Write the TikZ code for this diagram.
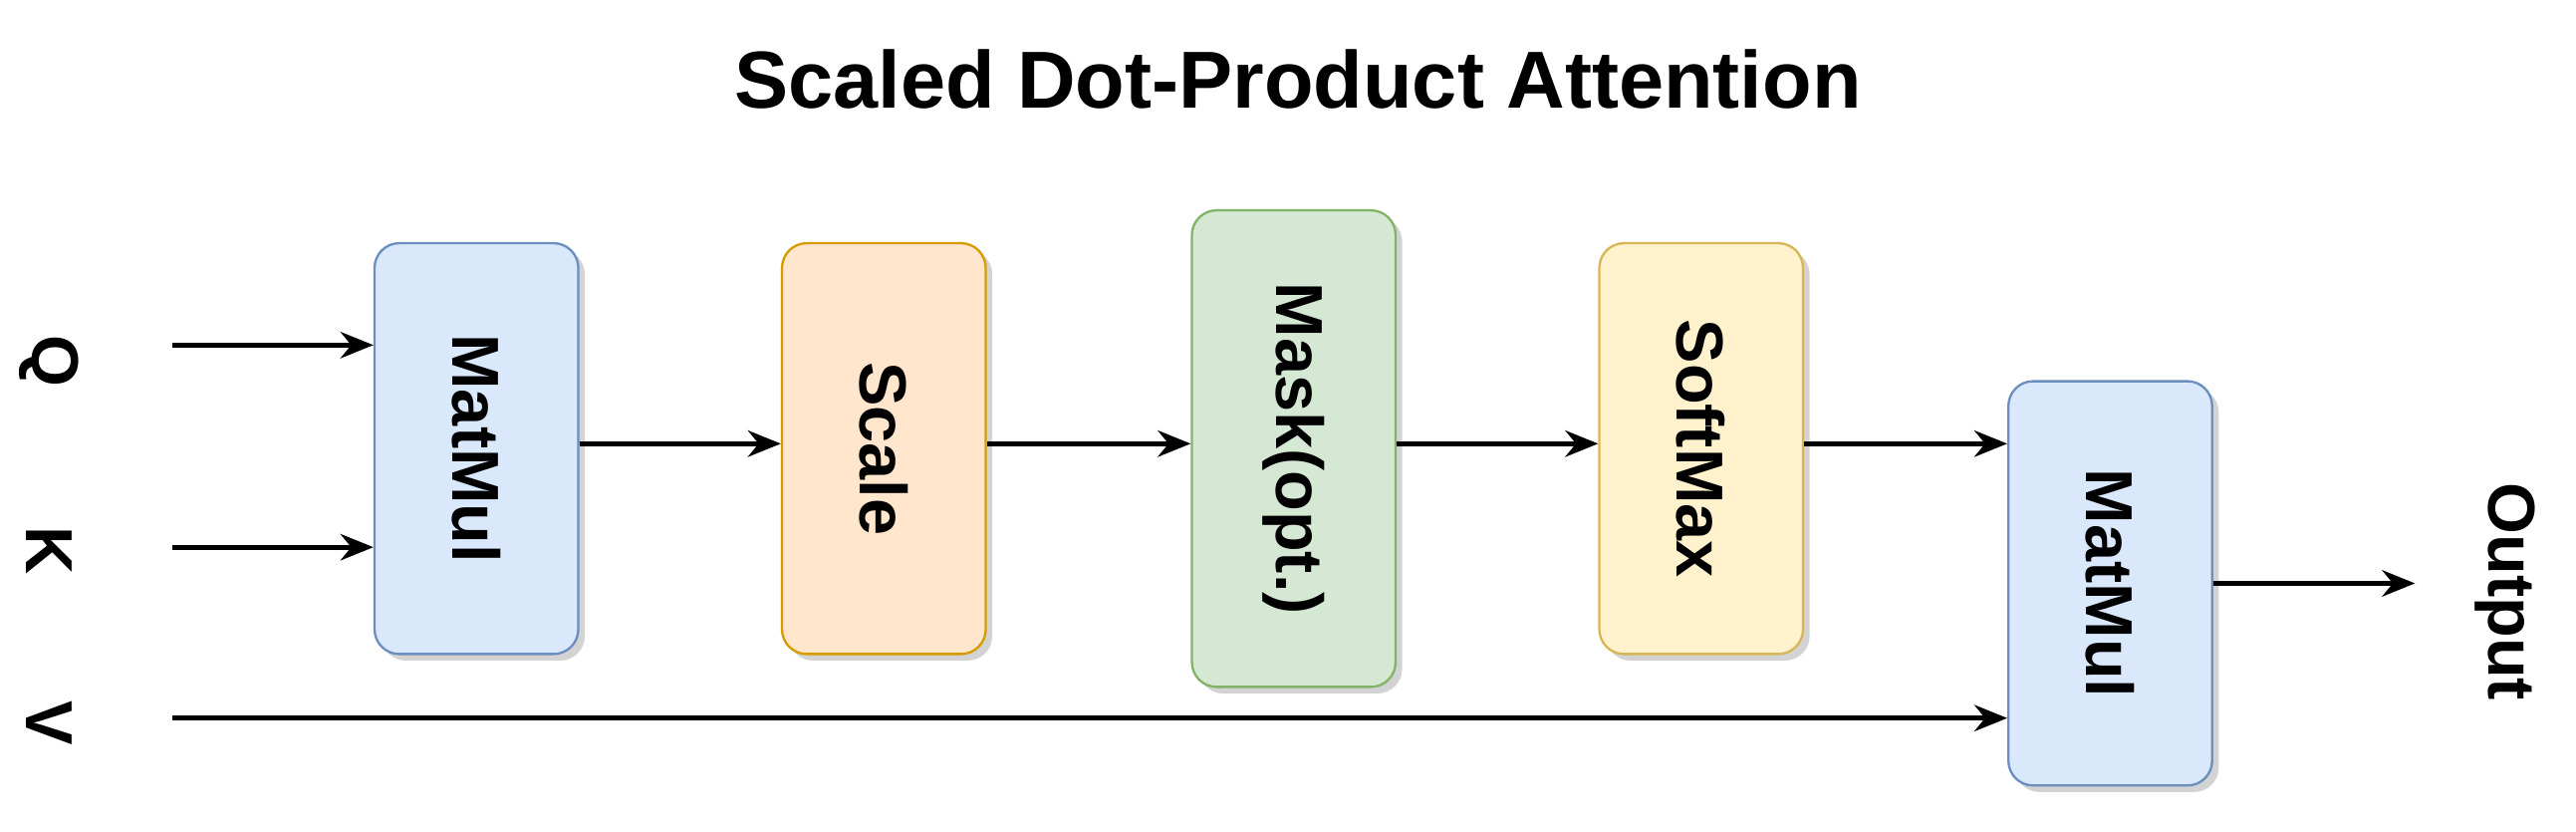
\documentclass[tikz,border=0pt]{standalone}
\usepackage{fontspec}
\setmainfont{Liberation Sans}
\usetikzlibrary{arrows.meta,shadows}
\definecolor{blueF}{HTML}{DAE8FC}\definecolor{blueD}{HTML}{6C8EBF}
\definecolor{orgF}{HTML}{FFE6CC}\definecolor{orgD}{HTML}{D79B00}
\definecolor{grnF}{HTML}{D5E8D4}\definecolor{grnD}{HTML}{82B366}
\definecolor{ylwF}{HTML}{FFF2CC}\definecolor{ylwD}{HTML}{D6B656}
\tikzset{
  blk/.style={draw=#1D,fill=#1F,rounded corners=0.15cm,minimum width=1.24cm,
    drop shadow={shadow xshift=0.04cm,shadow yshift=-0.04cm,opacity=0.35},
    font=\bfseries\fontsize{11.5}{13}\selectfont},
  lbl/.style={rotate=-90,font=\bfseries\fontsize{11.5}{13}\selectfont},
  arr/.style={-{Stealth[length=0.2cm,width=0.16cm]},line width=0.9pt}
}
\begin{document}
\begin{tikzpicture}
\useasboundingbox (0,0) rectangle (15.68,-5.06);
\node[font=\bfseries\fontsize{14}{16}\selectfont] (title) at (7.9,-0.48) {Scaled Dot-Product Attention};
\node[blk=blue,minimum height=2.5cm] (mm1) at (2.9,-2.73) {\rotatebox{-90}{MatMul}};
\node[blk=org,minimum height=2.5cm] (sc) at (5.38,-2.73) {\rotatebox{-90}{Scale}};
\node[blk=grn,minimum height=2.9cm] (mk) at (7.875,-2.73) {\rotatebox{-90}{Mask(opt.)}};
\node[blk=ylw,minimum height=2.5cm] (sm) at (10.355,-2.73) {\rotatebox{-90}{SoftMax}};
\node[blk=blue,minimum height=2.46cm] (mm2) at (12.845,-3.55) {\rotatebox{-90}{MatMul}};
\node[lbl] (q) at (0.3,-2.2) {Q};
\node[lbl] (k) at (0.3,-3.35) {K};
\node[lbl] (v) at (0.3,-4.4) {V};
\node[lbl] (out) at (15.25,-3.6) {Output};
\coordinate (qs) at (1.05,-2.1);
\coordinate (ks) at (1.05,-3.33);
\coordinate (vs) at (1.05,-4.37);
\coordinate (oe) at (14.7,-3.55);
\draw[arr] (qs) -- (qs -| mm1.west);
\draw[arr] (ks) -- (ks -| mm1.west);
\draw[arr] (vs) -- (vs -| mm2.west);
\draw[arr] (mm1.east |- 0,-2.7) -- (sc.west |- 0,-2.7);
\draw[arr] (sc.east |- 0,-2.7) -- (mk.west |- 0,-2.7);
\draw[arr] (mk.east |- 0,-2.7) -- (sm.west |- 0,-2.7);
\draw[arr] (sm.east |- 0,-2.7) -- (mm2.west |- 0,-2.7);
\draw[arr] (mm2.east |- oe) -- (oe);
\end{tikzpicture}
\end{document}
